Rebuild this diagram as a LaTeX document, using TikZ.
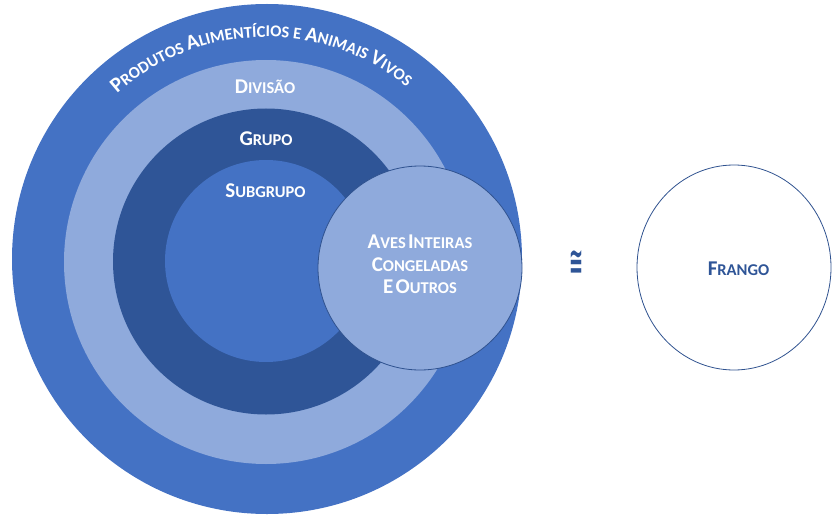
\documentclass[tikz,border=0pt]{standalone}
\usepackage{fontspec}
\setmainfont{Carlito}
\newfontfamily\symfont{DejaVu Sans}
\usetikzlibrary{decorations.text,shapes.geometric}
\definecolor{outerblue}{HTML}{4472C4}
\definecolor{lightblue}{HTML}{8FAADC}
\definecolor{darkblue}{HTML}{2F5597}
\definecolor{edgeblue}{HTML}{2F528F}
\newcommand\BigL{\bfseries\fontsize{21}{21}\selectfont}
\newcommand\SmL{\bfseries\fontsize{16.5}{16.5}\selectfont}
\newcommand\SCx[2]{{\BigL #1}{\SmL #2}}
\tikzset{
  lab/.style={text=white, inner sep=0pt, anchor=base},
}
\begin{document}
\begin{tikzpicture}[x=1pt,y=1pt]
\useasboundingbox (0,0) rectangle (832,515);
% rings
\fill[outerblue] (267,256) circle[radius=255];
\fill[lightblue] (266,253) circle[radius=202];
\fill[darkblue] (266,253.5) circle[radius=153];
\fill[outerblue] (266,254) circle[radius=101];
% curved title
\path[decorate, decoration={text along path, text color=white,
  text align=center,
  text={|\BigL|P|\SmL|RODUTOS |\BigL|A|\SmL|LIMENTÍCIOS E |\BigL|A|\SmL|NIMAIS |\BigL|V|\SmL|IVOS}}]
  (266,254) ++(141.35:224) arc[start angle=141.35, end angle=41.35, radius=224];
% ring labels
\node[lab] (div) at (265,421.7) {\SCx{D}{IVISÃO}};
\node[lab] (grp) at (266,369) {\SCx{G}{RUPO}};
\node[lab] (sub) at (265.5,317.3) {\SCx{S}{UBGRUPO}};
% Aves circle
\node[circle, minimum size=204pt, inner sep=0pt, fill=lightblue, draw=edgeblue, line width=0.8pt] (aves) at (420,247) {};
\node[lab] (aves1) at (420,267) {\SCx{A}{VES} \SCx{I}{NTEIRAS}};
\node[lab] (aves2) at (420,244) {\SCx{C}{ONGELADAS}};
\node[lab] (aves3) at (420,222) {\SCx{E}{} \SCx{O}{UTROS}};
% approx symbol
\node[text=darkblue, inner sep=0pt] (approx) at (576.5,252.5) {\resizebox{14pt}{24pt}{\symfont\bfseries ≅}};
% Frango
\node[ellipse, minimum width=194pt, minimum height=205pt, inner sep=0pt, draw=edgeblue, line width=0.8pt] (frango) at (734,247.5) {};
\node[text=darkblue, inner sep=0pt, anchor=base] (frlab) at (738.5,240) {\SCx{F}{RANGO}};
\end{tikzpicture}
\end{document}
